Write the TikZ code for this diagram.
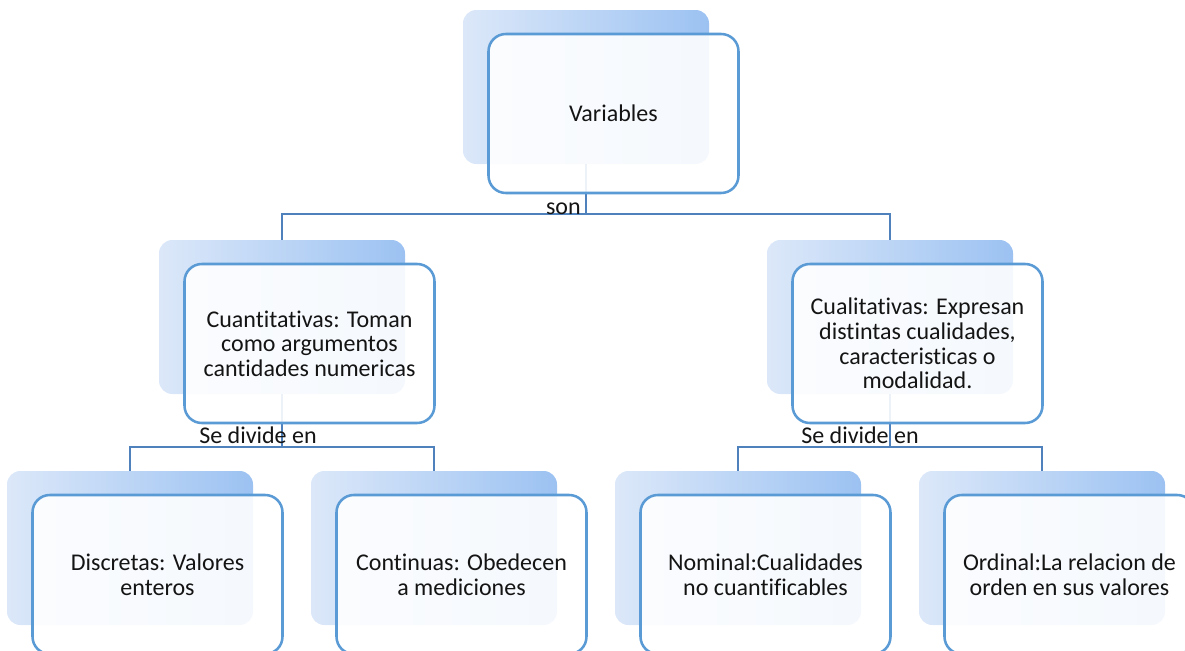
\documentclass[tikz,border=0pt]{standalone}
\usepackage{fontspec}
\setmainfont{Carlito}[Ligatures={NoCommon,NoRequired,NoContextual}]
\definecolor{shL}{RGB}{220,232,249}
\definecolor{shR}{RGB}{156,194,242}
\definecolor{bordc}{RGB}{91,155,213}
\definecolor{connc}{RGB}{79,129,189}
\definecolor{txtc}{RGB}{20,20,20}
\begin{document}
\begin{tikzpicture}[x=0.75pt,y=-0.75pt,
  shadowbox/.style={rectangle, rounded corners=10pt, minimum width=184.5pt, minimum height=115.5pt, left color=shL, right color=shR, draw=none, inner sep=0pt},
  frontbox/.style={rectangle, rounded corners=13pt, minimum width=187.5pt, minimum height=119.25pt, draw=bordc, line width=1.9pt, fill=white, fill opacity=0.9, text opacity=1, align=center, font=\fontsize{18}{18.4}\selectfont, text=txtc, inner sep=2pt},
  conn/.style={draw=connc, line width=1.8pt},
  lbl/.style={font=\fontsize{18}{18.4}\selectfont, text=txtc, inner sep=0pt}]
\useasboundingbox (0,0) rectangle (1185,650);
\clip (0,0) rectangle (1185,650);
% shadows
\node[shadowbox] (varS) at (586,87) {};
\node[shadowbox] (cuanS) at (282,317) {};
\node[shadowbox] (qualS) at (890,317) {};
\node[shadowbox] (discS) at (130,548) {};
\node[shadowbox] (contS) at (434,548) {};
\node[shadowbox] (nomS) at (738,548) {};
\node[shadowbox] (ordS) at (1042,548) {};
% connectors
\coordinate (bar1) at (0,214);
\coordinate (bar2) at (0,447);
\draw[conn] (varS.south) -- (varS.south |- bar1);
\draw[conn] (cuanS.north) |- (qualS.north |- bar1) -- (qualS.north);
\draw[conn] (cuanS.south) -- (cuanS.south |- bar2);
\draw[conn] (discS.north) |- (contS.north |- bar2) -- (contS.north);
\draw[conn] (qualS.south) -- (qualS.south |- bar2);
\draw[conn] (nomS.north) |- (ordS.north |- bar2) -- (ordS.north);
% front boxes
\node[frontbox] (var) at (613.5,113.5) {Variables};
\node[frontbox] (cuan) at (309.5,343.5) {Cuantitativas: Toman\\como argumentos\\cantidades numericas};
\node[frontbox] (qual) at (917.5,343.5) {Cualitativas: Expresan\\distintas cualidades,\\caracteristicas o\\modalidad.};
\node[frontbox] (disc) at (157.5,574.5) {Discretas: Valores\\enteros};
\node[frontbox] (cont) at (461.5,574.5) {Continuas: Obedecen\\a mediciones};
\node[frontbox] (nom) at (765.5,574.5) {Nominal:Cualidades\\no cuantificables};
\node[frontbox] (ord) at (1069.5,574.5) {Ordinal:La relacion de\\orden en sus valores};
% labels
\node[lbl, anchor=base east] (son) at (581,214) {son};
\node[lbl, anchor=base west] (div1) at (199,443) {Se divide en};
\node[lbl, anchor=base west] (div2) at (801,443) {Se divide en};
\end{tikzpicture}
\end{document}
